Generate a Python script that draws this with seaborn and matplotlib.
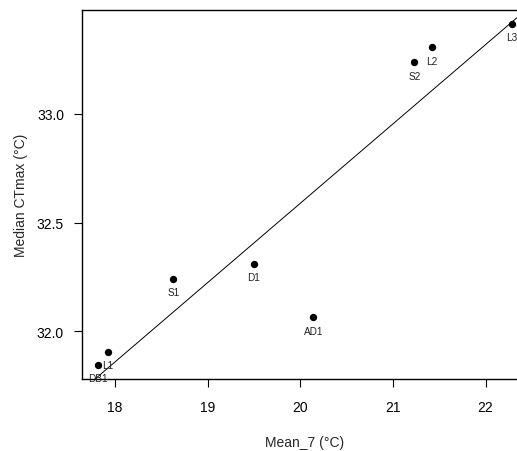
import matplotlib
matplotlib.use("Agg")
import matplotlib.pyplot as plt
import seaborn as sns
import pandas as pd

sites = ["DB1", "L1", "S1", "D1", "AD1", "S2", "L2", "L3"]
mean_7 = [17.82, 17.92, 18.63, 19.50, 20.14, 21.23, 21.42, 22.28]
median_ctmax = [31.843, 31.905, 32.24, 32.31, 32.063, 33.238, 33.307, 33.415]

df = pd.DataFrame({"site": sites, "x": mean_7, "y": median_ctmax})

sns.set_style("white")
plt.rcParams["font.family"] = ["Liberation Sans", "DejaVu Sans"]

fig = plt.figure(figsize=(5.17, 4.52), dpi=100)
W, H = 517, 452
ax = fig.add_axes([82 / W, (H - 380) / H, (528 - 82) / W, (380 - 11) / H])

xlim = (17.644, 22.458)
ylim = (31.779, 33.479)
ax.set_xlim(xlim)
ax.set_ylim(ylim)

sns.regplot(data=df, x="x", y="y", ax=ax, ci=None, truncate=False,
            scatter=False, line_kws=dict(color="black", lw=0.7))
sns.scatterplot(data=df, x="x", y="y", ax=ax, color="black", s=28,
                edgecolor="black", linewidth=0, zorder=3)

for s, xv, yv in zip(sites, mean_7, median_ctmax):
    ax.annotate(s, (xv, yv), xytext=(0, -9.5), textcoords="offset points",
                ha="center", va="center", fontsize=7.2, color="#222222",
                annotation_clip=False)

ax.set_xlim(xlim)
ax.set_ylim(ylim)
ax.set_xticks([18, 19, 20, 21, 22])
ax.set_yticks([32.0, 32.5, 33.0])
ax.set_yticklabels(["32.0", "32.5", "33.0"])
ax.tick_params(axis="both", direction="out", length=6, width=0.8,
               colors="black", labelsize=10, left=True, bottom=True)
ax.tick_params(axis="x", pad=9)
ax.tick_params(axis="y", pad=7)
for sp in ["left", "bottom", "top"]:
    ax.spines[sp].set_color("black")
    ax.spines[sp].set_linewidth(1.0)
ax.spines["right"].set_visible(False)

ax.set_xlabel("Mean_7 (°C)", fontsize=10, labelpad=15)
ax.set_ylabel("Median CTmax (°C)", fontsize=10, labelpad=6)

fig.savefig("out.png", dpi=100)
